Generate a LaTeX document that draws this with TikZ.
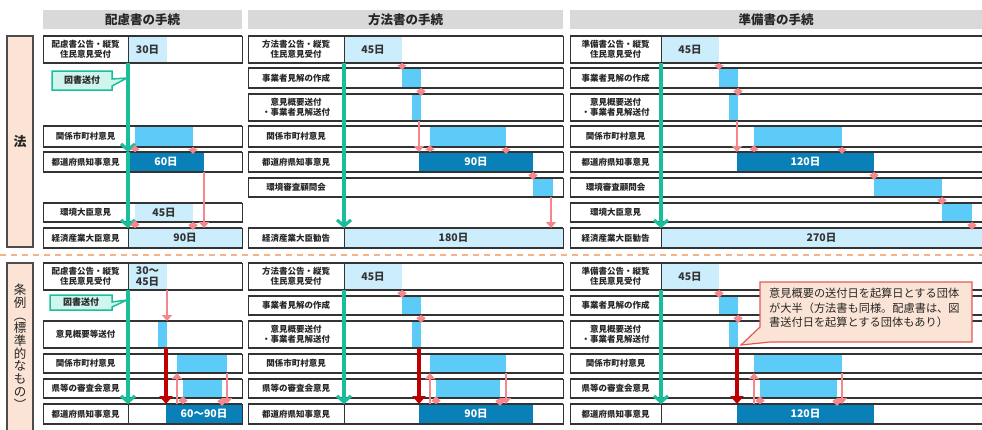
\documentclass[tikz,border=0pt]{standalone}
\usepackage{fontspec}
\setmainfont{Noto Sans CJK JP}
\usetikzlibrary{arrows.meta,calc}
\definecolor{hdr}{HTML}{D9D9D9}
\definecolor{lb}{HTML}{CCEEFC}
\definecolor{mb}{HTML}{5CCBF8}
\definecolor{db}{HTML}{0A80B8}
\definecolor{grn}{HTML}{1BBE9B}
\definecolor{pk}{HTML}{F4868C}
\definecolor{dr}{HTML}{C00000}
\definecolor{peach}{HTML}{FBE4D5}
\definecolor{orng}{HTML}{F5B38A}
\definecolor{cyanf}{HTML}{CFF5EE}
\definecolor{calr}{HTML}{E05A5A}
\definecolor{frm}{HTML}{333333}
\newcommand\mkbar[7]{\node[#6,anchor=north west,minimum width={(#3-#2)*1pt},minimum height={(#5-#4)*1pt}] (#1) at (#2,#4) {#7};}
\newcommand\mkrow[7]{%
\node[rowframe,anchor=north west,minimum width={(#4-#2)*1pt},minimum height={(#6-#5)*1pt}] (#1) at (#2,#5) {};%
\node[rowlab,anchor=north west,minimum width={(#3-#2)*1pt},minimum height={(#6-#5)*1pt}] (#1l) at (#2,#5) {#7};%
\draw[divline] (#1l.north east) -- (#1l.south east);%
\draw[hline] (#1.north west) -- (#1.north east);%
\draw[hline] (#1.south west) -- (#1.south east);}
\begin{document}
\begin{tikzpicture}[x=1pt,y=-1pt,
  rowframe/.style={draw=frm,line width=0.6pt,inner sep=0pt,outer sep=0pt},
  rowlab/.style={inner sep=0pt,outer sep=0pt,align=center,text=black!85,font=\fontsize{8.5}{9.6}\selectfont\bfseries},
  divline/.style={draw=frm,line width=0.7pt},
  hline/.style={draw=frm,line width=1.4pt},
  barbase/.style={inner sep=0pt,outer sep=0pt,text=black!80,font=\fontsize{10.5}{11}\selectfont\bfseries},
  lbar/.style={barbase,fill=lb},
  mbar/.style={barbase,fill=mb},
  dbar/.style={barbase,fill=db,text=white,font=\fontsize{10.5}{11}\selectfont\bfseries},
  hdrbox/.style={fill=hdr,inner sep=0pt,outer sep=0pt,text=black!85,font=\fontsize{12.5}{14}\selectfont\bfseries},
  sidebox/.style={fill=peach,draw=black!70,line width=1.4pt,inner sep=0pt,outer sep=0pt},
  sidetxt/.style={inner sep=0pt,text=black!85},
  grnarr/.style={draw=grn,line width=3.2pt,-{Straight Barb[length=6pt,width=14pt]}},
  pkm/.style={draw=pk,line width=1.8pt,{Triangle[length=3pt,width=9pt]}-{Triangle[length=5pt,width=9pt]},shorten >=-2pt},
  pkl/.style={draw=pk,line width=2.6pt,-{Triangle[length=6pt,width=10pt]}},
  drarr/.style={draw=dr,line width=3.2pt,-{Triangle[length=8pt,width=13pt]}},
  gcall/.style={draw=grn,fill=cyanf,line width=1.5pt,line join=miter},
  gcalltxt/.style={inner sep=0pt,text=black!85,font=\fontsize{9}{10}\selectfont\bfseries},
  rcall/.style={draw=calr,fill=peach,line width=1.2pt},
  rcalltxt/.style={inner sep=0pt,align=left,text=black!85,font=\fontsize{11.2}{14.5}\selectfont}
]
\useasboundingbox (0,0) rectangle (982,429);

% headers
\node[hdrbox,anchor=north west,minimum width=199pt,minimum height=19pt] (h1) at (43,10) {配慮書の手続};
\node[hdrbox,anchor=north west,minimum width=315pt,minimum height=19pt] (h2) at (248,10) {方法書の手続};
\node[hdrbox,anchor=north west,minimum width=412pt,minimum height=19pt] (h3) at (570,10) {準備書の手続};

% side boxes
\node[sidebox,anchor=north west,minimum width=26pt,minimum height=211pt] (hou) at (7,36) {};
\node[sidetxt,font=\fontsize{13}{14}\selectfont\bfseries] (houtxt) at (hou.center) {法};
\node[sidebox,anchor=north west,minimum width=26pt,minimum height=175pt] (jourei) at (7,263) {};
\node[sidetxt,align=center,anchor=north,font=\fontsize{12.5}{12.7}\selectfont] (joureitxt) at (20,284) {条\\例\\︵\\標\\準\\的\\な\\も\\の\\︶};

% separator
\draw[orng,line width=1.6pt,dash pattern=on 6pt off 5pt] (0,255) -- (982,255);

% ---------- bars: law ----------
\mkbar{a1}{128}{167}{36}{63}{lbar}{30日}
\mkbar{a4}{135}{193}{126}{147}{mbar}{}
\mkbar{a5}{128}{204}{152}{172}{dbar}{60日}
\mkbar{a7}{135}{193}{203}{222}{lbar}{45日}
\mkbar{a8}{128}{242}{228}{248}{lbar}{90日}

\mkbar{b1}{344}{402}{36}{63}{lbar}{45日}
\mkbar{b2}{402}{421}{68}{88}{mbar}{}
\mkbar{b3}{412}{421}{94}{121}{mbar}{}
\mkbar{b4}{430}{506}{126}{147}{mbar}{}
\mkbar{b5}{419}{533}{152}{172}{dbar}{90日}
\mkbar{b6}{533}{553}{178}{197}{mbar}{}
\mkbar{b8}{344}{563}{228}{248}{lbar}{180日}

\mkbar{c1}{661}{719}{36}{63}{lbar}{45日}
\mkbar{c2}{719}{738}{68}{88}{mbar}{}
\mkbar{c3}{729}{738}{94}{121}{mbar}{}
\mkbar{c4}{754}{842}{126}{147}{mbar}{}
\mkbar{c5}{737}{874}{152}{172}{dbar}{120日}
\mkbar{c6}{874}{942}{178}{197}{mbar}{}
\mkbar{c7}{942}{972}{203}{222}{mbar}{}
\mkbar{c8}{661}{982}{228}{248}{lbar}{270日}

% ---------- bars: ordinance ----------
\mkbar{d1}{128}{167}{263}{290}{lbar,align=left}{30～\\45日}
\mkbar{d3}{158}{167}{321}{348}{mbar}{}
\mkbar{d4}{177}{227}{354}{373}{mbar}{}
\mkbar{d5}{183}{222}{379}{398}{mbar}{}
\mkbar{d6}{166}{242}{404}{424}{dbar}{60～90日}

\mkbar{e1}{344}{402}{263}{290}{lbar}{45日}
\mkbar{e2}{402}{421}{296}{315}{mbar}{}
\mkbar{e3}{412}{421}{321}{348}{mbar}{}
\mkbar{e4}{430}{506}{354}{373}{mbar}{}
\mkbar{e5}{436}{500}{379}{398}{mbar}{}
\mkbar{e6}{419}{533}{404}{424}{dbar}{90日}

\mkbar{f1}{661}{719}{263}{290}{lbar}{45日}
\mkbar{f2}{719}{738}{296}{315}{mbar}{}
\mkbar{f3}{729}{738}{321}{348}{mbar}{}
\mkbar{f4}{754}{842}{354}{373}{mbar}{}
\mkbar{f5}{760}{837}{379}{398}{mbar}{}
\mkbar{f6}{737}{874}{404}{424}{dbar}{120日}

% ---------- rows: law ----------
\mkrow{ra1}{43}{128}{242}{36}{63}{配慮書公告・縦覧\\住民意見受付}
\mkrow{ra4}{43}{128}{242}{126}{147}{関係市町村意見}
\mkrow{ra5}{43}{128}{242}{152}{172}{都道府県知事意見}
\mkrow{ra7}{43}{128}{242}{203}{222}{環境大臣意見}
\mkrow{ra8}{43}{128}{242}{228}{248}{経済産業大臣意見}

\mkrow{rb1}{248}{344}{563}{36}{63}{方法書公告・縦覧\\住民意見受付}
\mkrow{rb2}{248}{344}{563}{68}{88}{事業者見解の作成}
\mkrow{rb3}{248}{344}{563}{94}{121}{意見概要送付\\・事業者見解送付}
\mkrow{rb4}{248}{344}{563}{126}{147}{関係市町村意見}
\mkrow{rb5}{248}{344}{563}{152}{172}{都道府県知事意見}
\mkrow{rb6}{248}{344}{563}{178}{197}{環境審査顧問会}
\mkrow{rb8}{248}{344}{563}{228}{248}{経済産業大臣勧告}

\mkrow{rc1}{570}{661}{985}{36}{63}{準備書公告・縦覧\\住民意見受付}
\mkrow{rc2}{570}{661}{985}{68}{88}{事業者見解の作成}
\mkrow{rc3}{570}{661}{985}{94}{121}{意見概要送付\\・事業者見解送付}
\mkrow{rc4}{570}{661}{985}{126}{147}{関係市町村意見}
\mkrow{rc5}{570}{661}{985}{152}{172}{都道府県知事意見}
\mkrow{rc6}{570}{661}{985}{178}{197}{環境審査顧問会}
\mkrow{rc7}{570}{661}{985}{203}{222}{環境大臣意見}
\mkrow{rc8}{570}{661}{985}{228}{248}{経済産業大臣勧告}

% ---------- rows: ordinance ----------
\mkrow{rd1}{43}{128}{242}{263}{290}{配慮書公告・縦覧\\住民意見受付}
\mkrow{rd3}{43}{128}{242}{321}{348}{意見概要等送付}
\mkrow{rd4}{43}{128}{242}{354}{373}{関係市町村意見}
\mkrow{rd5}{43}{128}{242}{379}{398}{県等の審査会意見}
\mkrow{rd6}{43}{128}{242}{404}{424}{都道府県知事意見}

\mkrow{re1}{248}{344}{563}{263}{290}{方法書公告・縦覧\\住民意見受付}
\mkrow{re2}{248}{344}{563}{296}{315}{事業者見解の作成}
\mkrow{re3}{248}{344}{563}{321}{348}{意見概要送付\\・事業者見解送付}
\mkrow{re4}{248}{344}{563}{354}{373}{関係市町村意見}
\mkrow{re5}{248}{344}{563}{379}{398}{県等の審査会意見}
\mkrow{re6}{248}{344}{563}{404}{424}{都道府県知事意見}

\mkrow{rf1}{570}{661}{985}{263}{290}{準備書公告・縦覧\\住民意見受付}
\mkrow{rf2}{570}{661}{985}{296}{315}{事業者見解の作成}
\mkrow{rf3}{570}{661}{985}{321}{348}{意見概要送付\\・事業者見解送付}
\mkrow{rf4}{570}{661}{985}{354}{373}{関係市町村意見}
\mkrow{rf5}{570}{661}{985}{379}{398}{県等の審査会意見}
\mkrow{rf6}{570}{661}{985}{404}{424}{都道府県知事意見}

% ---------- green arrows ----------
\draw[grnarr] (ra1l.south east) -- (ra5l.north east);
\draw[grnarr] (ra5l.north east) -- (ra8l.north east);
\draw[grnarr] (rb1l.south east) -- (rb8l.north east);
\draw[grnarr] (rc1l.south east) -- (rc8l.north east);
\draw[grnarr] (rd1l.south east) -- (rd6l.north east);
\draw[grnarr] (re1l.south east) -- (re6l.north east);
\draw[grnarr] (rf1l.south east) -- (rf6l.north east);

% ---------- pink arrows: law ----------
\draw[pkm] (a4.south west |- ra5.north) -- (a4.south west);
\draw[pkm] (a4.south east) -- (a4.south east |- ra5.north);
\draw[pkl] (a5.south east) -- (a5.south east |- ra8.north);
\draw[pkm] (a7.south west |- ra8.north) -- (a7.south west);
\draw[pkm] (a7.south east) -- (a7.south east |- ra8.north);

\draw[pkm] (b1.south east) -- (b2.north west);
\draw[pkm] (b2.south east) -- (b3.north east);
\draw[pkl] (b5.north west |- b3.south) -- (b5.north west);
\draw[pkm] (b4.south west |- rb5.north) -- (b4.south west);
\draw[pkm] (b4.south east) -- (b4.south east |- rb5.north);
\draw[pkm] (b5.south east) -- (b6.north west);
\draw[pkl] ([xshift=-2pt]b6.south east) -- ([xshift=-2pt]b6.south east |- rb8.north);

\draw[pkm] (c1.south east) -- (c2.north west);
\draw[pkm] (c2.south east) -- (c3.north east);
\draw[pkl] (c5.north west |- c3.south) -- (c5.north west);
\draw[pkm] (c4.south west |- rc5.north) -- (c4.south west);
\draw[pkm] (c4.south east) -- (c4.south east |- rc5.north);
\draw[pkm] (c5.south east) -- (c6.north west);
\draw[pkm] (c6.south east) -- (c7.north west);
\draw[pkm] (c7.south east) -- (c7.south east |- rc8.north);

% ---------- ordinance arrows ----------
\draw[pkl] (d1.south east) -- (d3.north east);
\draw[drarr] (d6.north west |- d3.south) -- (d6.north west);
\draw[pkl] (d4.south west |- rd6.north) -- (d4.south west);
\draw[pkm] (d5.south west |- rd6.north) -- (d5.south west);
\draw[pkl] (d4.south east) -- (d4.south east |- rd6.north);
\draw[pkm] (d5.south east) -- (d5.south east |- rd6.north);

\draw[pkm] (e1.south east) -- (e2.north west);
\draw[pkm] (e2.south east) -- (e3.north east);
\draw[drarr] (e6.north west |- e3.south) -- (e6.north west);
\draw[pkl] (e4.south west |- re6.north) -- (e4.south west);
\draw[pkm] (e5.south west |- re6.north) -- (e5.south west);
\draw[pkl] (e4.south east) -- (e4.south east |- re6.north);
\draw[pkm] (e5.south east) -- (e5.south east |- re6.north);

\draw[pkm] (f1.south east) -- (f2.north west);
\draw[pkm] (f2.south east) -- (f3.north east);
\draw[drarr] (f6.north west |- f3.south) -- (f6.north west);
\draw[pkl] (f4.south west |- rf6.north) -- (f4.south west);
\draw[pkm] (f5.south west |- rf6.north) -- (f5.south west);
\draw[pkl] (f4.south east) -- (f4.south east |- rf6.north);
\draw[pkm] (f5.south east) -- (f5.south east |- rf6.north);

% ---------- callouts ----------
\draw[gcall] (52,71) -- (112,71) -- (112,79) -- (127,78) -- (112,86) -- (112,90) -- (52,90) -- cycle;
\node[gcalltxt] (zs1) at (82,80.5) {図書送付};
\draw[gcall] (50,295) -- (112,295) -- (112,302) -- (127,300) -- (112,307) -- (112,310) -- (50,310) -- cycle;
\node[gcalltxt] (zs2) at (81,302.5) {図書送付};

\draw[rcall] (760,282) -- (972,282) -- (972,342) -- (770,342) -- (741,345) -- (760,327) -- cycle;
\node[rcalltxt,anchor=north west] (note) at (769,288) {意見概要の送付日を起算日とする団体\\が大半（方法書も同様。配慮書は、図\\書送付日を起算とする団体もあり）};
\end{tikzpicture}
\end{document}
